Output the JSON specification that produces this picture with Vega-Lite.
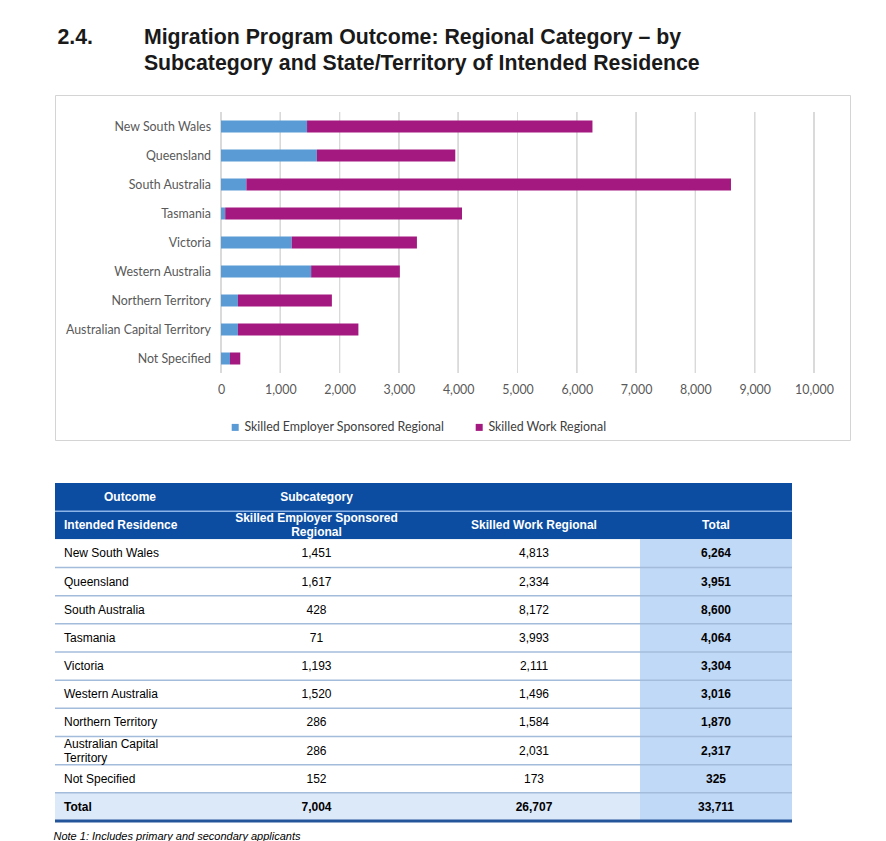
{
  "$schema": "https://vega.github.io/schema/vega-lite/v6.json",
  "background": "white",
  "padding": {"left": 53, "top": 27, "right": 0, "bottom": 0},
  "title": {
    "text": ["2.4.\u00a0\u00a0\u00a0\u00a0\u00a0\u00a0\u00a0\u00a0\u2006Migration Program Outcome: Regional Category – by", "\u200b\u00a0\u00a0\u00a0\u00a0\u00a0\u00a0\u00a0\u00a0\u00a0\u00a0\u00a0\u00a0\u00a0\u00a0\u2006Subcategory and State/Territory of Intended Residence"],
    "anchor": "start",
    "font": "Liberation Sans",
    "fontSize": 21.3,
    "fontWeight": "bold",
    "color": "#1A1A1A",
    "lineHeight": 26,
    "offset": 20,
    "dx": 4
  },
  "datasets": {
    "bars": [
      {"state": "New South Wales", "sub": "Skilled Employer Sponsored Regional", "value": 1451},
      {"state": "New South Wales", "sub": "Skilled Work Regional", "value": 4813},
      {"state": "Queensland", "sub": "Skilled Employer Sponsored Regional", "value": 1617},
      {"state": "Queensland", "sub": "Skilled Work Regional", "value": 2334},
      {"state": "South Australia", "sub": "Skilled Employer Sponsored Regional", "value": 428},
      {"state": "South Australia", "sub": "Skilled Work Regional", "value": 8172},
      {"state": "Tasmania", "sub": "Skilled Employer Sponsored Regional", "value": 71},
      {"state": "Tasmania", "sub": "Skilled Work Regional", "value": 3993},
      {"state": "Victoria", "sub": "Skilled Employer Sponsored Regional", "value": 1193},
      {"state": "Victoria", "sub": "Skilled Work Regional", "value": 2111},
      {"state": "Western Australia", "sub": "Skilled Employer Sponsored Regional", "value": 1520},
      {"state": "Western Australia", "sub": "Skilled Work Regional", "value": 1496},
      {"state": "Northern Territory", "sub": "Skilled Employer Sponsored Regional", "value": 286},
      {"state": "Northern Territory", "sub": "Skilled Work Regional", "value": 1584},
      {"state": "Australian Capital Territory", "sub": "Skilled Employer Sponsored Regional", "value": 286},
      {"state": "Australian Capital Territory", "sub": "Skilled Work Regional", "value": 2031},
      {"state": "Not Specified", "sub": "Skilled Employer Sponsored Regional", "value": 152},
      {"state": "Not Specified", "sub": "Skilled Work Regional", "value": 173}
    ],
    "table": [
      {"r": 0, "sec": "head", "c1": "Outcome", "c2": "Subcategory", "c3": "", "c4": ""},
      {"r": 1, "sec": "head", "c1": "Intended Residence", "c2": "Skilled Employer Sponsored\nRegional", "c3": "Skilled Work Regional", "c4": "Total"},
      {"r": 2, "sec": "body", "c1": "New South Wales", "c2": "1,451", "c3": "4,813", "c4": "6,264"},
      {"r": 3, "sec": "body", "c1": "Queensland", "c2": "1,617", "c3": "2,334", "c4": "3,951"},
      {"r": 4, "sec": "body", "c1": "South Australia", "c2": "428", "c3": "8,172", "c4": "8,600"},
      {"r": 5, "sec": "body", "c1": "Tasmania", "c2": "71", "c3": "3,993", "c4": "4,064"},
      {"r": 6, "sec": "body", "c1": "Victoria", "c2": "1,193", "c3": "2,111", "c4": "3,304"},
      {"r": 7, "sec": "body", "c1": "Western Australia", "c2": "1,520", "c3": "1,496", "c4": "3,016"},
      {"r": 8, "sec": "body", "c1": "Northern Territory", "c2": "286", "c3": "1,584", "c4": "1,870"},
      {"r": 9, "sec": "body", "c1": "Australian Capital\nTerritory", "c2": "286", "c3": "2,031", "c4": "2,317"},
      {"r": 10, "sec": "body", "c1": "Not Specified", "c2": "152", "c3": "173", "c4": "325"},
      {"r": 11, "sec": "total", "c1": "Total", "c2": "7,004", "c3": "26,707", "c4": "33,711"}
    ]
  },
  "spacing": 42,
  "vconcat": [
    {
      "width": 795,
      "height": 345,
      "view": {"stroke": "#D4D4D4", "strokeWidth": 1},
      "data": {"name": "bars"},
      "encoding": {
        "y": {
          "field": "state",
          "type": "nominal",
          "sort": ["New South Wales", "Queensland", "South Australia", "Tasmania", "Victoria", "Western Australia", "Northern Territory", "Australian Capital Territory", "Not Specified"],
          "scale": {"range": [17, 278], "paddingInner": 0, "paddingOuter": 0},
          "axis": null
        }
      },
      "layer": [
        {"mark": {"type": "rect", "fill": null, "stroke": "#D9D9D9", "strokeWidth": 1}, "encoding": {"x": {"datum": 0, "type": "quantitative"}, "x2": {"datum": 0}}},
        {"mark": {"type": "rect", "fill": null, "stroke": "#D9D9D9", "strokeWidth": 1}, "encoding": {"x": {"datum": 1000, "type": "quantitative"}, "x2": {"datum": 1000}}},
        {"mark": {"type": "rect", "fill": null, "stroke": "#D9D9D9", "strokeWidth": 1}, "encoding": {"x": {"datum": 2000, "type": "quantitative"}, "x2": {"datum": 2000}}},
        {"mark": {"type": "rect", "fill": null, "stroke": "#D9D9D9", "strokeWidth": 1}, "encoding": {"x": {"datum": 3000, "type": "quantitative"}, "x2": {"datum": 3000}}},
        {"mark": {"type": "rect", "fill": null, "stroke": "#D9D9D9", "strokeWidth": 1}, "encoding": {"x": {"datum": 4000, "type": "quantitative"}, "x2": {"datum": 4000}}},
        {"mark": {"type": "rect", "fill": null, "stroke": "#D9D9D9", "strokeWidth": 1}, "encoding": {"x": {"datum": 5000, "type": "quantitative"}, "x2": {"datum": 5000}}},
        {"mark": {"type": "rect", "fill": null, "stroke": "#D9D9D9", "strokeWidth": 1}, "encoding": {"x": {"datum": 6000, "type": "quantitative"}, "x2": {"datum": 6000}}},
        {"mark": {"type": "rect", "fill": null, "stroke": "#D9D9D9", "strokeWidth": 1}, "encoding": {"x": {"datum": 7000, "type": "quantitative"}, "x2": {"datum": 7000}}},
        {"mark": {"type": "rect", "fill": null, "stroke": "#D9D9D9", "strokeWidth": 1}, "encoding": {"x": {"datum": 8000, "type": "quantitative"}, "x2": {"datum": 8000}}},
        {"mark": {"type": "rect", "fill": null, "stroke": "#D9D9D9", "strokeWidth": 1}, "encoding": {"x": {"datum": 9000, "type": "quantitative"}, "x2": {"datum": 9000}}},
        {"mark": {"type": "rect", "fill": null, "stroke": "#D9D9D9", "strokeWidth": 1}, "encoding": {"x": {"datum": 10000, "type": "quantitative"}, "x2": {"datum": 10000}}},
        {
          "mark": {"type": "bar", "size": 12},
          "encoding": {
            "x": {
              "field": "value",
              "type": "quantitative",
              "stack": "zero",
              "scale": {"domain": [-2799.3, 10607.1], "nice": false, "zero": false},
              "axis": {"title": null, "values": [0, 1000, 2000, 3000, 4000, 5000, 6000, 7000, 8000, 9000, 10000], "format": ",.0f", "grid": false, "domain": false, "ticks": false, "tickSize": 0, "offset": -67, "labelPadding": 10, "labelFlush": false, "labelOverlap": false, "labelFont": "Lato", "labelFontSize": 12.4, "labelColor": "#595959"}
            },
            "color": {
              "field": "sub",
              "type": "nominal",
              "scale": {"domain": ["Skilled Employer Sponsored Regional", "Skilled Work Regional"], "range": ["#5B9BD5", "#A3197F"]},
              "legend": {"orient": "none", "legendX": 174, "legendY": 326, "direction": "horizontal", "title": null, "symbolType": "square", "symbolSize": 49, "symbolStrokeWidth": 0, "labelFont": "Lato", "labelFontSize": 12.4, "labelColor": "#404040", "labelLimit": 400, "columnPadding": 28, "labelOffset": 3}
            }
          }
        },
        {
          "transform": [{"filter": "datum.sub === 'Skilled Work Regional'"}],
          "mark": {"type": "text", "align": "right", "baseline": "middle", "dx": -10, "font": "Lato", "fontSize": 12.4, "color": "#595959"},
          "encoding": {
            "x": {"datum": 0, "type": "quantitative"},
            "text": {"field": "state", "type": "nominal"}
          }
        }
      ]
    },
    {
      "spacing": 0,
      "bounds": "flush",
      "title": {"text": "Note 1: Includes primary and secondary applicants", "orient": "bottom", "anchor": "start", "font": "Liberation Sans", "fontSize": 11, "fontStyle": "italic", "fontWeight": "normal", "color": "#000000", "offset": 8},
      "hconcat": [
        {
          "width": 150,
          "height": 338,
          "data": {"name": "table"},
          "encoding": {"y": {"field": "r", "type": "ordinal", "axis": null, "scale": {"paddingInner": 0, "paddingOuter": 0}}},
          "layer": [
            {"mark": {"type": "rect"}, "encoding": {"fill": {"condition": [{"test": "datum.sec === 'head'", "value": "#0C4DA2"}, {"test": "datum.sec === 'total'", "value": "#DCE9F8"}], "value": "#FFFFFF"}}},
            {"transform": [{"filter": "datum.r === 0"}], "mark": {"type": "rule", "color": "#8DB4E6", "strokeWidth": 1.5}, "encoding": {"y": {"field": "r", "type": "ordinal", "bandPosition": 1}}},
            {"transform": [{"filter": "datum.r >= 2 && datum.r <= 10"}], "mark": {"type": "rule", "color": "#A3BCDB", "strokeWidth": 1.5}, "encoding": {"y": {"field": "r", "type": "ordinal", "bandPosition": 1}}},
            {"transform": [{"filter": "datum.r === 11"}], "mark": {"type": "rule", "color": "#24549A", "strokeWidth": 3}, "encoding": {"y": {"field": "r", "type": "ordinal", "bandPosition": 1}}},
            {"transform": [{"filter": "datum.r === 0"}], "mark": {"type": "text", "font": "Liberation Sans", "fontSize": 12, "fontWeight": "bold", "color": "#FFFFFF", "baseline": "middle", "align": "center"}, "encoding": {"text": {"field": "c1", "type": "nominal"}}},
            {"transform": [{"filter": "datum.r === 1"}], "mark": {"type": "text", "font": "Liberation Sans", "fontSize": 12, "fontWeight": "bold", "color": "#FFFFFF", "baseline": "middle", "align": "left", "dx": -66}, "encoding": {"text": {"field": "c1", "type": "nominal"}}},
            {"transform": [{"filter": "datum.sec === 'body' && datum.r !== 9"}], "mark": {"type": "text", "font": "Liberation Sans", "fontSize": 12, "color": "#000000", "baseline": "middle", "align": "left", "dx": -66}, "encoding": {"text": {"field": "c1", "type": "nominal"}}},
            {"transform": [{"filter": "datum.r === 9"}], "mark": {"type": "text", "font": "Liberation Sans", "fontSize": 12, "color": "#000000", "baseline": "middle", "align": "left", "dx": -66, "dy": -7, "lineBreak": "\n", "lineHeight": 14}, "encoding": {"text": {"field": "c1", "type": "nominal"}}},
            {"transform": [{"filter": "datum.sec === 'total'"}], "mark": {"type": "text", "font": "Liberation Sans", "fontSize": 12, "fontWeight": "bold", "color": "#000000", "baseline": "middle", "align": "left", "dx": -66}, "encoding": {"text": {"field": "c1", "type": "nominal"}}}
          ]
        },
        {
          "width": 223,
          "height": 338,
          "data": {"name": "table"},
          "encoding": {"y": {"field": "r", "type": "ordinal", "axis": null, "scale": {"paddingInner": 0, "paddingOuter": 0}}},
          "layer": [
            {"mark": {"type": "rect"}, "encoding": {"fill": {"condition": [{"test": "datum.sec === 'head'", "value": "#0C4DA2"}, {"test": "datum.sec === 'total'", "value": "#DCE9F8"}], "value": "#FFFFFF"}}},
            {"transform": [{"filter": "datum.r === 0"}], "mark": {"type": "rule", "color": "#8DB4E6", "strokeWidth": 1.5}, "encoding": {"y": {"field": "r", "type": "ordinal", "bandPosition": 1}}},
            {"transform": [{"filter": "datum.r >= 2 && datum.r <= 10"}], "mark": {"type": "rule", "color": "#A3BCDB", "strokeWidth": 1.5}, "encoding": {"y": {"field": "r", "type": "ordinal", "bandPosition": 1}}},
            {"transform": [{"filter": "datum.r === 11"}], "mark": {"type": "rule", "color": "#24549A", "strokeWidth": 3}, "encoding": {"y": {"field": "r", "type": "ordinal", "bandPosition": 1}}},
            {"transform": [{"filter": "datum.r === 0"}], "mark": {"type": "text", "font": "Liberation Sans", "fontSize": 12, "fontWeight": "bold", "color": "#FFFFFF", "baseline": "middle", "align": "center"}, "encoding": {"text": {"field": "c2", "type": "nominal"}}},
            {"transform": [{"filter": "datum.r === 1"}], "mark": {"type": "text", "font": "Liberation Sans", "fontSize": 12, "fontWeight": "bold", "color": "#FFFFFF", "baseline": "middle", "align": "center", "dy": -7, "lineBreak": "\n", "lineHeight": 14}, "encoding": {"text": {"field": "c2", "type": "nominal"}}},
            {"transform": [{"filter": "datum.sec === 'body'"}], "mark": {"type": "text", "font": "Liberation Sans", "fontSize": 12, "color": "#000000", "baseline": "middle", "align": "center"}, "encoding": {"text": {"field": "c2", "type": "nominal"}}},
            {"transform": [{"filter": "datum.sec === 'total'"}], "mark": {"type": "text", "font": "Liberation Sans", "fontSize": 12, "fontWeight": "bold", "color": "#000000", "baseline": "middle", "align": "center"}, "encoding": {"text": {"field": "c2", "type": "nominal"}}}
          ]
        },
        {
          "width": 212,
          "height": 338,
          "data": {"name": "table"},
          "encoding": {"y": {"field": "r", "type": "ordinal", "axis": null, "scale": {"paddingInner": 0, "paddingOuter": 0}}},
          "layer": [
            {"mark": {"type": "rect"}, "encoding": {"fill": {"condition": [{"test": "datum.sec === 'head'", "value": "#0C4DA2"}, {"test": "datum.sec === 'total'", "value": "#DCE9F8"}], "value": "#FFFFFF"}}},
            {"transform": [{"filter": "datum.r === 0"}], "mark": {"type": "rule", "color": "#8DB4E6", "strokeWidth": 1.5}, "encoding": {"y": {"field": "r", "type": "ordinal", "bandPosition": 1}}},
            {"transform": [{"filter": "datum.r >= 2 && datum.r <= 10"}], "mark": {"type": "rule", "color": "#A3BCDB", "strokeWidth": 1.5}, "encoding": {"y": {"field": "r", "type": "ordinal", "bandPosition": 1}}},
            {"transform": [{"filter": "datum.r === 11"}], "mark": {"type": "rule", "color": "#24549A", "strokeWidth": 3}, "encoding": {"y": {"field": "r", "type": "ordinal", "bandPosition": 1}}},
            {"transform": [{"filter": "datum.sec === 'head'"}], "mark": {"type": "text", "font": "Liberation Sans", "fontSize": 12, "fontWeight": "bold", "color": "#FFFFFF", "baseline": "middle", "align": "center"}, "encoding": {"text": {"field": "c3", "type": "nominal"}}},
            {"transform": [{"filter": "datum.sec === 'body'"}], "mark": {"type": "text", "font": "Liberation Sans", "fontSize": 12, "color": "#000000", "baseline": "middle", "align": "center"}, "encoding": {"text": {"field": "c3", "type": "nominal"}}},
            {"transform": [{"filter": "datum.sec === 'total'"}], "mark": {"type": "text", "font": "Liberation Sans", "fontSize": 12, "fontWeight": "bold", "color": "#000000", "baseline": "middle", "align": "center"}, "encoding": {"text": {"field": "c3", "type": "nominal"}}}
          ]
        },
        {
          "width": 152,
          "height": 338,
          "data": {"name": "table"},
          "encoding": {"y": {"field": "r", "type": "ordinal", "axis": null, "scale": {"paddingInner": 0, "paddingOuter": 0}}},
          "layer": [
            {"mark": {"type": "rect"}, "encoding": {"fill": {"condition": [{"test": "datum.sec === 'head'", "value": "#0C4DA2"}], "value": "#C0D9F6"}}},
            {"transform": [{"filter": "datum.r === 0"}], "mark": {"type": "rule", "color": "#8DB4E6", "strokeWidth": 1.5}, "encoding": {"y": {"field": "r", "type": "ordinal", "bandPosition": 1}}},
            {"transform": [{"filter": "datum.r >= 2 && datum.r <= 10"}], "mark": {"type": "rule", "color": "#A3BCDB", "strokeWidth": 1.5}, "encoding": {"y": {"field": "r", "type": "ordinal", "bandPosition": 1}}},
            {"transform": [{"filter": "datum.r === 11"}], "mark": {"type": "rule", "color": "#24549A", "strokeWidth": 3}, "encoding": {"y": {"field": "r", "type": "ordinal", "bandPosition": 1}}},
            {"transform": [{"filter": "datum.sec === 'head'"}], "mark": {"type": "text", "font": "Liberation Sans", "fontSize": 12, "fontWeight": "bold", "color": "#FFFFFF", "baseline": "middle", "align": "center"}, "encoding": {"text": {"field": "c4", "type": "nominal"}}},
            {"transform": [{"filter": "datum.sec !== 'head'"}], "mark": {"type": "text", "font": "Liberation Sans", "fontSize": 12, "fontWeight": "bold", "color": "#000000", "baseline": "middle", "align": "center"}, "encoding": {"text": {"field": "c4", "type": "nominal"}}}
          ]
        }
      ]
    }
  ],
  "config": {
    "view": {"stroke": null},
    "font": "Liberation Sans"
  }
}
